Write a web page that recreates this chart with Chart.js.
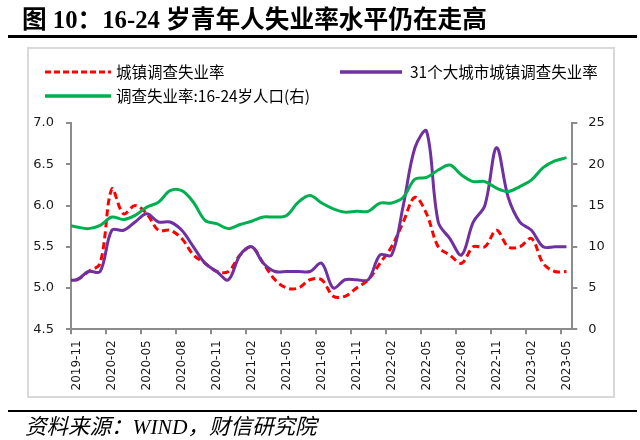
<!DOCTYPE html>
<html>
<head>
<meta charset="utf-8">
<script src="https://cdn.jsdelivr.net/npm/chart.js@4.4.0/dist/chart.umd.min.js"></script>
<style>
  html, body { margin:0; padding:0; background:#fff; }
  #wrap { position:relative; width:640px; height:440px; overflow:hidden; background:#fff; }
  #c { position:absolute; left:0; top:0; }
  .abs { position:absolute; white-space:nowrap; }
  #title { left:22px; top:4px; font-family:"Liberation Serif","Noto Sans CJK SC",serif; font-weight:bold; font-size:24.7px; color:#000; line-height:32px; }
  .rule { position:absolute; left:8px; width:629px; background:#000; }
  #box { position:absolute; left:27px; top:47px; width:584px; height:347px; border:2px solid #d9d9d9; }
  .leg { font-family:"Noto Sans CJK SC","Noto Sans",sans-serif; font-size:15.5px; color:#000; line-height:20px; }
  #foot { left:25px; top:413px; font-family:"Liberation Serif","Noto Sans CJK SC",serif; font-style:italic; font-size:21.5px; line-height:28px; color:#000; }
</style>
</head>
<body>
<div id="wrap">
  <div id="box"></div>
  <canvas id="c" width="640" height="440"></canvas>
  <div id="title" class="abs">图 10：16-24 岁青年人失业率水平仍在走高</div>
  <div class="rule" style="top:35px;height:2.5px;"></div>
  <svg class="abs" style="left:45px;top:66px;" width="66" height="12"><line x1="0" y1="6" x2="66" y2="6" stroke="#FF0000" stroke-width="3" stroke-dasharray="6,3"/></svg>
  <div class="abs leg" style="left:116px;top:61px;">城镇调查失业率</div>
  <svg class="abs" style="left:340px;top:66px;" width="62" height="12"><line x1="0" y1="6" x2="62" y2="6" stroke="#7030A0" stroke-width="3.5"/></svg>
  <div class="abs leg" style="left:410px;top:61px;">31个大城市城镇调查失业率</div>
  <svg class="abs" style="left:45px;top:90px;" width="66" height="12"><line x1="0" y1="6" x2="66" y2="6" stroke="#00B050" stroke-width="3.5"/></svg>
  <div class="abs leg" style="left:116px;top:85px;">调查失业率:16-24岁人口(右)</div>
  <div class="rule" style="top:409.5px;height:2.8px;"></div>
  <div id="foot" class="abs">资料来源：WIND，财信研究院</div>
</div>
<script>
// months: first entry (2019-10) lies just left of the axis start and is clipped
const months = ['2019-10','2019-11','2019-12','2020-01','2020-02','2020-03','2020-04','2020-05','2020-06','2020-07','2020-08','2020-09','2020-10','2020-11','2020-12',
  '2021-01','2021-02','2021-03','2021-04','2021-05','2021-06','2021-07','2021-08','2021-09','2021-10','2021-11','2021-12',
  '2022-01','2022-02','2022-03','2022-04','2022-05','2022-06','2022-07','2022-08','2022-09','2022-10','2022-11','2022-12',
  '2023-01','2023-02','2023-03','2023-04','2023-05'];
const urbanRate = [5.1,5.1,5.2,5.3,6.2,5.9,6.0,5.9,5.7,5.7,5.6,5.4,5.3,5.2,5.2,
  5.4,5.5,5.3,5.1,5.0,5.0,5.1,5.1,4.9,4.9,5.0,5.1,
  5.3,5.5,5.8,6.1,5.9,5.5,5.4,5.3,5.5,5.5,5.7,5.5,
  5.5,5.6,5.3,5.2,5.2];
const city31Rate = [5.1,5.1,5.2,5.2,5.7,5.7,5.8,5.9,5.8,5.8,5.7,5.5,5.3,5.2,5.1,
  5.4,5.5,5.3,5.2,5.2,5.2,5.2,5.3,5.0,5.1,5.1,5.1,
  5.4,5.4,6.0,6.7,6.9,5.8,5.6,5.4,5.8,6.0,6.7,6.1,
  5.8,5.7,5.5,5.5,5.5];
const youthRate = [12.7,12.4,12.2,12.6,13.6,13.3,13.8,14.8,15.4,16.8,16.8,15.4,13.2,12.8,12.2,
  12.7,13.1,13.6,13.6,13.8,15.4,16.2,15.3,14.6,14.2,14.3,14.3,
  15.3,15.3,16.0,18.2,18.4,19.3,19.9,18.7,17.9,17.9,17.1,16.7,
  17.3,18.1,19.6,20.4,20.8];
const xTickLabels = ['2019-11','2020-02','2020-05','2020-08','2020-11','2021-02','2021-05','2021-08','2021-11','2022-02','2022-05','2022-08','2022-11','2023-02','2023-05'];
const leftTicks = [4.5,5.0,5.5,6.0,6.5,7.0];
const rightTicks = [0,5,10,15,20,25];

// each month occupies one band; points sit in the band centre, ticks on band starts
const monthPos = months.map((m,i)=> i - 0.5);
const tickPos = xTickLabels.map(l => months.indexOf(l) - 1);
const toPts = arr => arr.map((v,i)=>({x:monthPos[i], y:v}));

const axisGray = '#8c8c8c';
const lbl = '#1a1a1a';

new Chart(document.getElementById('c'), {
  type:'line',
  data:{
    datasets:[
      {label:'城镇调查失业率', data:toPts(urbanRate), yAxisID:'y', borderColor:'#FF0000', borderWidth:3, borderDash:[7,4], pointRadius:0, tension:0.35, fill:false, order:3},
      {label:'31个大城市城镇调查失业率', data:toPts(city31Rate), yAxisID:'y', borderColor:'#7030A0', borderWidth:3, pointRadius:0, tension:0.35, fill:false, order:2},
      {label:'调查失业率:16-24岁人口(右)', data:toPts(youthRate), yAxisID:'y1', borderColor:'#00B050', borderWidth:3, pointRadius:0, tension:0.35, fill:false, order:1}
    ]
  },
  options:{
    responsive:false, animation:false, devicePixelRatio:1,
    layout:{padding:{top:123, left:0, right:0, bottom:0}},
    plugins:{legend:{display:false}, tooltip:{enabled:false}},
    scales:{
      x:{type:'linear', position:'bottom', min:0, max:months.length-1,
        afterBuildTicks:s=>{ s.ticks = tickPos.map(v=>({value:v})); },
        afterFit:s=>{ s.height = 440-329.3; },
        ticks:{autoSkip:false, minRotation:90, maxRotation:90, padding:6, labelOffset:5.8,
          color:lbl, font:{family:'DejaVu Sans', size:12},
          callback:(v,i)=>xTickLabels[i]},
        grid:{drawOnChartArea:false, drawTicks:true, tickLength:5, color:axisGray, lineWidth:2},
        border:{color:axisGray, width:2}},
      y:{position:'left', min:4.5, max:7.0,
        afterBuildTicks:s=>{ s.ticks = leftTicks.map(v=>({value:v})); },
        afterFit:s=>{ s.width = 71; },
        ticks:{padding:12, color:lbl, font:{family:'DejaVu Sans', size:13}, callback:v=>v.toFixed(1)},
        grid:{drawOnChartArea:false, tickLength:5, color:axisGray, lineWidth:2},
        border:{color:axisGray, width:2}},
      y1:{position:'right', min:0, max:25,
        afterBuildTicks:s=>{ s.ticks = rightTicks.map(v=>({value:v})); },
        afterFit:s=>{ s.width = 640-572.3; },
        ticks:{padding:11, color:lbl, font:{family:'DejaVu Sans', size:13}},
        grid:{drawOnChartArea:false, tickLength:5, color:axisGray, lineWidth:2},
        border:{color:axisGray, width:2}}
    }
  }
});
</script>
</body>
</html>
